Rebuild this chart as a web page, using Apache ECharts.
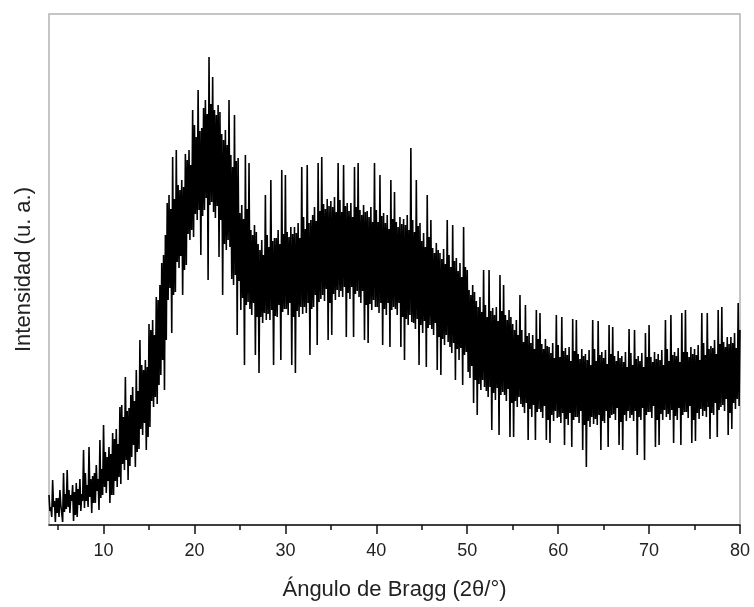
<!DOCTYPE html>
<html>
<head>
<meta charset="utf-8">
<script src="https://cdn.jsdelivr.net/npm/echarts@6/dist/echarts.min.js"></script>
<style>
html,body{margin:0;padding:0;background:#fff;}
#chart{width:754px;height:607px;}
</style>
</head>
<body>
<div id="chart"></div>
<script>
// Sampling grid of the diffractogram (2θ, degrees)
const startAngle = 4;
const stepAngle = 0.1;

// Intensity (arbitrary units), 0.1° steps
const intensity04to15 = [
 30,14,18,8,45,18,24,3,27,12,
 27,8,35,20,21,3,52,13,31,16,
 55,18,35,12,30,24,40,4,33,10,
 42,8,36,20,46,14,31,24,75,17,
 52,24,40,18,78,28,46,12,49,22,
 52,22,60,34,46,15,85,27,56,30,
 100,38,73,32,68,44,78,22,71,30,
 92,30,86,44,96,38,81,48,118,41,
 120,61,108,55,148,65,114,45,117,59,
 130,68,138,80,124,58,155,73,134,76,
 185,96,160,90,155,102,165,75,158,88,
 201,98,195,124,205,118,190,128,228,121
];
const intensity16to31 = [
 225,140,240,150,262,165,270,135,290,185,
 322,225,330,237,316,192,368,230,326,233,
 375,263,340,257,335,269,345,230,338,255,
 371,260,365,291,375,285,360,295,415,288,
 400,311,388,305,435,315,394,270,397,309,
 417,315,425,327,411,245,468,320,421,323,
 448,313,415,307,410,319,420,268,413,305,
 391,230,385,281,395,275,380,285,425,278,
 370,246,358,240,410,250,364,190,367,244,
 312,215,320,227,306,160,370,220,316,223,
 362,216,295,210,290,222,300,170,293,208,
 281,152,275,208,285,202,270,212,330,205,
 290,211,278,205,345,215,284,160,287,209,
 287,208,295,220,281,165,355,213,291,216,
 350,216,293,210,288,222,298,160,291,208,
 298,152,292,214,302,208,287,218,358,211
];
const intensity32to49 = [
 308,218,296,212,360,222,302,170,305,216,
 310,218,318,230,304,180,362,223,314,226,
 368,230,321,224,316,236,326,185,319,222,
 324,190,318,231,328,225,313,235,362,228,
 325,234,313,228,360,238,319,188,322,232,
 314,226,322,238,308,188,358,231,318,234,
 362,228,315,222,310,234,320,185,313,220,
 314,182,308,221,318,215,303,225,362,218,
 315,218,303,212,350,222,309,180,312,216,
 302,210,310,222,296,178,345,215,306,218,
 333,216,303,210,298,222,308,178,301,208,
 306,165,300,206,310,200,295,210,377,203,
 305,202,293,196,345,206,299,160,302,200,
 284,192,292,204,278,158,330,197,288,200,
 305,196,277,190,272,202,282,155,275,188,
 272,150,266,186,276,180,261,190,305,183,
 270,178,258,172,300,182,264,145,267,176,
 254,165,262,177,248,140,298,170,258,173
];
const intensity50to64 = [
 255,153,235,147,230,159,240,122,233,145,
 224,110,218,141,228,135,213,145,255,138,
 220,134,208,128,255,138,214,95,217,132,
 210,125,218,137,204,90,250,130,214,133,
 240,130,210,124,205,136,215,88,208,122,
 201,88,195,124,205,118,190,128,230,121,
 195,118,183,112,220,122,189,85,192,116,
 182,108,190,120,176,85,215,113,186,116,
 212,113,181,107,176,119,186,85,179,105,
 178,82,172,110,182,104,167,114,210,107,
 180,108,168,102,208,112,174,80,177,106,
 170,100,178,112,164,78,206,105,174,108,
 205,108,171,102,166,114,176,75,169,100,
 171,58,165,104,175,98,160,108,205,101,
 176,106,164,100,204,110,170,75,173,104
];
const intensity65to80 = [
 167,102,175,114,161,78,200,107,171,110,
 198,111,169,105,164,117,174,80,167,103,
 169,75,163,110,173,104,158,114,196,107,
 172,110,160,104,195,114,166,70,169,108,
 164,105,172,117,158,65,192,110,168,113,
 200,113,168,107,163,119,173,78,166,105,
 171,80,165,111,175,105,160,115,205,108,
 176,111,164,105,210,115,170,82,173,109,
 169,105,177,117,163,80,212,110,173,113,
 215,113,173,107,168,119,178,82,171,105,
 176,84,170,112,180,106,165,116,212,109,
 182,114,170,108,212,118,176,86,179,112,
 177,110,185,122,171,88,215,115,181,118,
 218,120,183,114,178,126,188,90,181,112,
 188,96,182,122,192,116,177,126,222,119,
 195
];

// Axis ticks
const xMajorTicks = [10, 20, 30, 40, 50, 60, 70, 80];
const xMinorTicks = [5, 15, 25, 35, 45, 55, 65, 75];
const xRange = [4, 80];
const yRange = [0, 511];

const intensity = [].concat(intensity04to15, intensity16to31, intensity32to49, intensity50to64, intensity65to80);
const seriesData = intensity.map((v, i) => [Math.round((startAngle + i * stepAngle) * 10) / 10, v]);

const chart = echarts.init(document.getElementById('chart'), null, {renderer: 'canvas'});
const fontFamily = '"Liberation Sans", Arial, Helvetica, sans-serif';
chart.setOption({
  animation: false,
  backgroundColor: '#ffffff',
  grid: {
    left: 49, right: 14, top: 14, bottom: 82,
    show: true, borderColor: '#b3b3b3', borderWidth: 1.5, backgroundColor: 'transparent'
  },
  xAxis: [{
    type: 'value',
    min: xRange[0], max: xRange[1],
    name: 'Ángulo de Bragg (2θ/°)',
    nameLocation: 'middle',
    nameGap: 54,
    nameTextStyle: {fontFamily: fontFamily, fontSize: 22, color: '#222'},
    axisLine: {show: true, lineStyle: {color: '#111', width: 1.5}},
    axisTick: {show: true, inside: false, length: 9, lineStyle: {color: '#111', width: 1.5}, customValues: xMajorTicks},
    axisLabel: {show: true, margin: 17, fontFamily: fontFamily, fontSize: 18, color: '#222', customValues: xMajorTicks, showMaxLabel: true, showMinLabel: true},
    splitLine: {show: false}
  }, {
    type: 'value',
    position: 'bottom',
    min: xRange[0], max: xRange[1],
    axisLine: {show: false},
    axisTick: {show: true, inside: false, length: 5, lineStyle: {color: '#111', width: 1.5}, customValues: xMinorTicks},
    axisLabel: {show: false},
    splitLine: {show: false}
  }],
  yAxis: {
    type: 'value',
    min: yRange[0], max: yRange[1],
    name: 'Intensidad (u. a.)',
    nameLocation: 'middle',
    nameRotate: 90,
    nameGap: 14,
    nameTextStyle: {fontFamily: fontFamily, fontSize: 22, color: '#222'},
    axisLine: {show: false},
    axisTick: {show: false},
    axisLabel: {show: false},
    splitLine: {show: false}
  },
  series: [{
    type: 'line',
    xAxisIndex: 0,
    data: seriesData,
    showSymbol: false,
    symbol: 'none',
    lineStyle: {color: '#000', width: 1.6},
    clip: true,
    silent: true
  }]
});
</script>
</body>
</html>
